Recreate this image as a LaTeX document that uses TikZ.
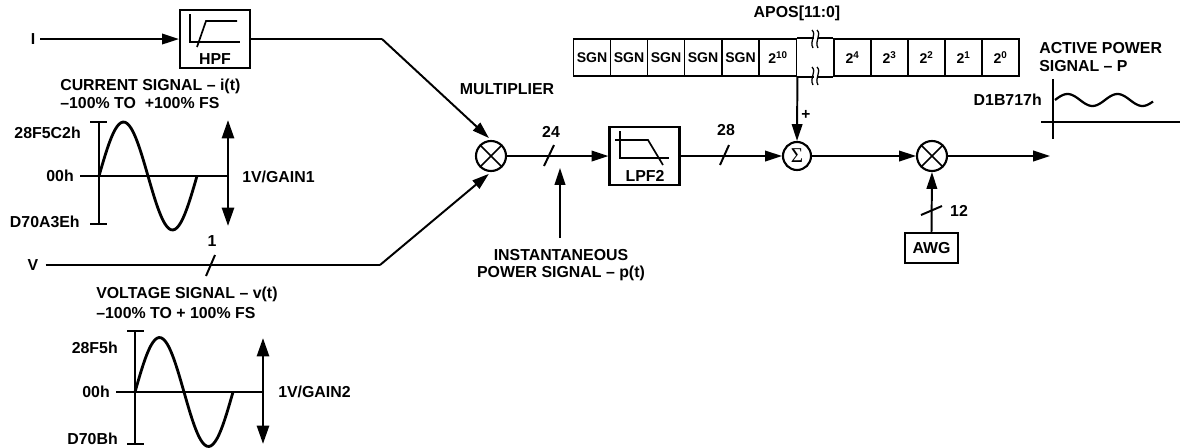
\documentclass[tikz,border=0pt]{standalone}
\usepackage{fontspec}
\setmainfont{Liberation Sans}
\newfontfamily\sigmafont{Liberation Serif}
\usepackage{tikz}
\usetikzlibrary{arrows.meta,calc}
\tikzset{
  lbl/.style={font=\fontsize{11.3}{13}\selectfont\bfseries,inner sep=0pt,align=left},
  small/.style={font=\fontsize{11}{12}\selectfont\bfseries,inner sep=0pt},
  block/.style={rectangle,draw,line width=1.5pt,minimum width=1.75cm,minimum height=1.45cm,inner sep=0pt},
  tag/.style={rectangle,draw,line width=1.5pt,minimum width=1.325cm,minimum height=0.75cm,inner sep=0pt,
    font=\fontsize{11.3}{13}\selectfont\bfseries},
  cell/.style={rectangle,draw,line width=1.3pt,minimum width=0.925cm,minimum height=0.925cm,inner sep=0pt,
    font=\fontsize{10}{12}\selectfont\bfseries},
  mixer/.style={circle,draw,line width=1.5pt,minimum size=0.75cm,inner sep=0pt},
  adder/.style={circle,draw,line width=1.5pt,minimum size=0.7cm,inner sep=0pt,
    font=\sigmafont\fontsize{15}{15}\selectfont},
  arrow/.style={-{Stealth[inset=0pt,length=12pt,width=7.5pt]},line width=1.4pt},
  wire/.style={line width=1.4pt},
  both/.style={{Stealth[inset=0pt,length=13pt,width=8.5pt]}-{Stealth[inset=0pt,length=13pt,width=8.5pt]},line width=1.9pt},
  axis/.style={line width=1pt},
  icon/.style={line width=1.2pt},
  trace/.style={line width=2pt},
  cut/.pic={
    \fill[white] (-2,-8) rectangle (2,8);
    \draw[line width=0.9pt] (-4,-9) .. controls (1,-4) and (-7,2) .. (-3,9);
    \draw[line width=0.9pt] (1,-9) .. controls (6,-4) and (-2,2) .. (2,9);
  }
}
\begin{document}
\begin{tikzpicture}[x=0.025cm,y=-0.025cm]
  \useasboundingbox (0,0) rectangle (1180,448);
  % current path
  \node[lbl] (inI) at (33,39) {I};
  \node[block] (hpf) at (215,39) {};
  \node[lbl] (hpfname) at (215,59) {HPF};
  \draw[icon] (190,14) -- (190,42) -- (240,42);
  \draw[icon] (197,47) -- (206,21) -- (237,21);
  \draw[arrow] (inI.east)+(5,0) -- (hpf.west);
  \node[mixer] (mulA) at (491,156) {};
  \draw[icon] (mulA.45) -- (mulA.225) (mulA.135) -- (mulA.315);
  \coordinate (bendI) at (382,39);
  \coordinate (bendV) at (380,265);
  \draw[wire] (hpf.east) -- (bendI);
  \draw[arrow,shorten >=2pt] (bendI) -- (mulA.north);
  \node[lbl,anchor=west] (curtitle) at (60,94) {CURRENT SIGNAL – i(t)\\–100\% TO\ \ +100\% FS};
  % current waveform
  \draw[axis] (90,122) -- (107,122) (99,122) -- (99,224) (90,224) -- (107,224) (80,176) -- (228,176);
  \draw[trace] plot[domain=0:98,samples=50,smooth] ({\x+99},{176-54*sin(360*(\x/98))});
  \draw[both] (228,120) -- (228,226);
  \node[lbl,anchor=east] (curhi) at (81,133) {28F5C2h};
  \node[lbl,anchor=east] (curmid) at (74,176) {00h};
  \node[lbl,anchor=east] (curlo) at (80,222) {D70A3Eh};
  \node[lbl,anchor=west] (curgain) at (242,177) {1V/GAIN1};
  % voltage path
  \node[lbl] (inV) at (33,265) {V};
  \draw[wire] (inV.east)+(7,0) -- (bendV);
  \draw[arrow,shorten >=2pt] (bendV) -- (mulA.south);
  \draw[wire] (206,276) -- (215,255);
  \node[lbl] (bitsV) at (212,241) {1};
  \node[lbl,anchor=west] (voltitle) at (96,303) {VOLTAGE SIGNAL – v(t)\\[1pt]–100\% TO + 100\% FS};
  % voltage waveform
  \draw[axis] (127,331) -- (144,331) (135,331) -- (135,444) (127,444) -- (144,444) (116,392) -- (263,392);
  \draw[trace] plot[domain=0:98,samples=50,smooth] ({\x+135},{392-54.5*sin(360*(\x/98))});
  \draw[both] (263,338) -- (263,444);
  \node[lbl,anchor=east] (volhi) at (118,348) {28F5h};
  \node[lbl,anchor=east] (volmid) at (110,392) {00h};
  \node[lbl,anchor=east] (vollo) at (118,439) {D70Bh};
  \node[lbl,anchor=west] (volgain) at (278,392) {1V/GAIN2};
  % filter and sum
  \node[lbl] (multname) at (507,89) {MULTIPLIER};
  \node[block] (lpf) at (644.5,156) {};
  \node[lbl] (lpfname) at (645,176) {LPF2};
  \draw[icon] (620,131) -- (620,158) -- (669,158);
  \draw[icon] (615,140) -- (648,140) -- (663,165);
  \draw[arrow] (mulA.east) -- (lpf.west);
  \draw[wire] (544,166) -- (554,145);
  \node[lbl] (bitsA) at (551,132) {24};
  \node[lbl] (instname) at (561,265) {\begin{tabular}{@{}c@{}}INSTANTANEOUS\\[-1pt]POWER SIGNAL – p(t)\end{tabular}};
  \coordinate (instup) at (560,238);
  \coordinate (insttip) at (560,168);
  \draw[arrow] (instup) -- (insttip);
  \node[adder] (sum) at (797,156) {Σ};
  \draw[arrow] (lpf.east) -- (sum.west);
  \draw[wire] (720,165) -- (729,145);
  \node[lbl] (bitsB) at (726,130) {28};
  % offset register
  \node[lbl] (aposname) at (797,13) {APOS[11:0]};
  \node[cell] (s5) at (592,57.5) {SGN};
  \node[cell] (s4) at (629,57.5) {SGN};
  \node[cell] (s3) at (666,57.5) {\raisebox{-1pt}{SGN}};
  \node[cell] (s2) at (703,57.5) {SGN};
  \node[cell] (s1) at (740.5,57.5) {SGN};
  \node[cell] (b10) at (778,57.5) {2\textsuperscript{10}};
  \node[cell] (b4) at (852.5,57.5) {2\textsuperscript{4}};
  \node[cell] (b3) at (889.5,57.5) {2\textsuperscript{3}};
  \node[cell] (b2) at (926.5,57.5) {2\textsuperscript{2}};
  \node[cell] (b1) at (963.5,57.5) {2\textsuperscript{1}};
  \node[cell] (b0) at (1000.5,57.5) {2\textsuperscript{0}};
  \draw[line width=1.3pt] (b10.north east) -- (b4.north west) (b10.south east) -- (b4.south west);
  \pic at (816,39) {cut};
  \pic at (816,76) {cut};
  \draw[arrow] (b10.south east) -- (sum.north);
  \node[small] (plus) at (806,115) {+};
  % output
  \node[mixer] (mulB) at (932,156) {};
  \draw[icon] (mulB.45) -- (mulB.225) (mulB.135) -- (mulB.315);
  \draw[arrow] (sum.east) -- (mulB.west);
  \coordinate (outP) at (1050,156);
  \draw[arrow] (mulB.east) -- (outP);
  \node[tag] (awg) at (931.5,248) {AWG};
  \draw[arrow] (awg.north) -- (mulB.south);
  \draw[wire] (921,215) -- (942,206);
  \node[lbl] (bitsC) at (959,211) {12};
  \node[lbl,anchor=west] (acttitle) at (1039,57) {ACTIVE POWER\\SIGNAL – P};
  \draw[axis] (1053,79) -- (1053,139) (1041,122) -- (1180,122);
  \draw[line width=1.6pt] plot[domain=0:98,samples=50,smooth] ({\x+1055},{100-6*sin(360*(\x/50))});
  \node[lbl,anchor=east] (acthi) at (1042,100) {D1B717h};
\end{tikzpicture}
\end{document}
